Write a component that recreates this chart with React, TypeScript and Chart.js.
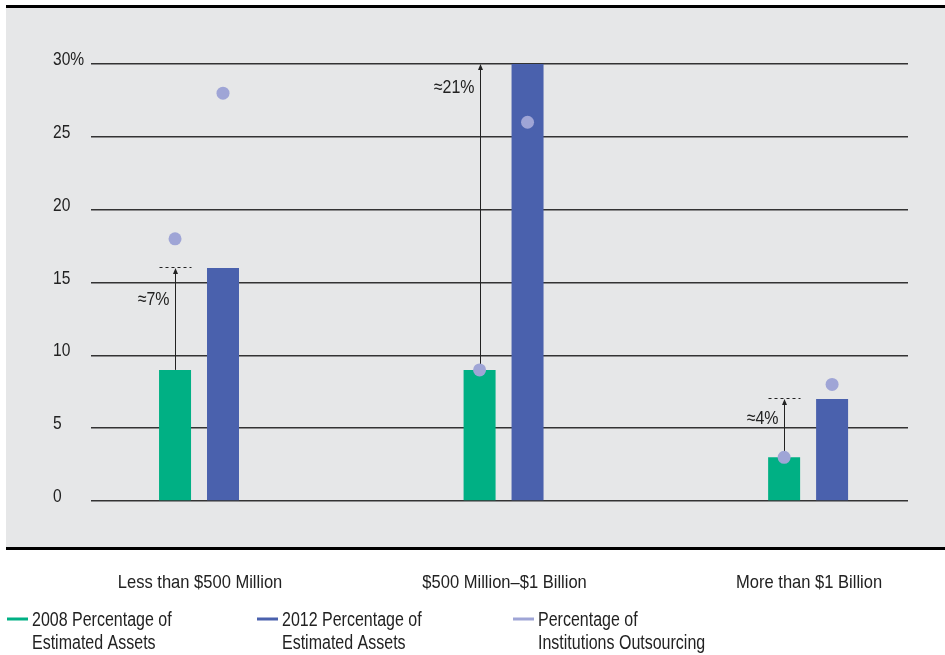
import React, { useEffect, useRef } from 'react';
import { Chart, registerables } from 'chart.js';

Chart.register(...registerables);

// ---- data ----
const categories = ['Less than $500 Million', '$500 Million\u2013$1 Billion', 'More than $1 Billion'];
const assets2008 = [9, 9, 3];
const assets2012 = [16, 30, 7];
const outsourcing2008 = [18, 9, 3];
const outsourcing2012 = [28, 26, 8];
const yTicks = [0, 5, 10, 15, 20, 25, 30];
const yTickLabels = ['0', '5', '10', '15', '20', '25', '30%'];
const seriesLabels = [
  '2008 Percentage of Estimated Assets',
  '2012 Percentage of Estimated Assets',
  'Percentage of Institutions Outsourcing',
];
const legendLines = [
  ['2008 Percentage of', 'Estimated Assets'],
  ['2012 Percentage of', 'Estimated Assets'],
  ['Percentage of', 'Institutions Outsourcing'],
];
// value (on the y scale) at which each "≈ change" label sits
const changeLabelAt = [13.9, 28.5, 5.75];

// ---- styles ----
const GREEN = '#00b084';
const BLUE = '#4a61ad';
const DOT = '#9fa5d6';
const BG = '#e6e7e8';
const INK = '#222222';
const FONT = "'Liberation Sans', Arial, sans-serif";
const CAT_PCT = 0.315;
const BAR_PCT = 0.667;
const OFFSET = CAT_PCT / 4;

// condensed text: Liberation Sans squeezed horizontally
function drawText(
  ctx: CanvasRenderingContext2D,
  text: string,
  x: number,
  y: number,
  size: number,
  sx: number,
  align: CanvasTextAlign,
) {
  ctx.save();
  ctx.font = `${size}px ${FONT}`;
  ctx.fillStyle = INK;
  ctx.textAlign = align;
  ctx.textBaseline = 'alphabetic';
  ctx.translate(x, y);
  ctx.scale(sx, 1);
  ctx.fillText(text, 0, 0);
  ctx.restore();
}

const panelPlugin = {
  id: 'panel',
  beforeDraw(chart: any) {
    const ctx = chart.ctx;
    ctx.save();
    ctx.fillStyle = BG;
    ctx.fillRect(6, 8, chart.width - 6, 539);
    ctx.fillStyle = '#000';
    ctx.fillRect(6, 5, chart.width - 6, 3);
    ctx.fillRect(6, 547, chart.width - 6, 3);
    ctx.restore();
  },
};

const axisTextPlugin = {
  id: 'axisText',
  afterDraw(chart: any) {
    const ctx = chart.ctx;
    const x = chart.scales.x;
    const y = chart.scales.y;
    yTicks.forEach((v, i) => {
      drawText(ctx, yTickLabels[i], 53, Math.round(y.getPixelForValue(v)) + 0.5, 19, 0.82, 'left');
    });
    categories.forEach((c, i) => {
      drawText(ctx, c, x.getPixelForValue(i) + 1, 588, 19, 0.87, 'center');
    });
  },
};

const changePlugin = {
  id: 'change',
  beforeDatasetsDraw(chart: any) {
    const { ctx } = chart;
    const x = chart.scales.x;
    const y = chart.scales.y;
    const barMeta = chart.getDatasetMeta(2);
    ctx.save();
    ctx.strokeStyle = INK;
    ctx.fillStyle = INK;
    ctx.lineWidth = 1;
    categories.forEach((_, i) => {
      const px = Math.round(x.getPixelForValue(i - OFFSET)) + 0.5;
      const y0 = y.getPixelForValue(assets2008[i]);
      const y1 = y.getPixelForValue(assets2012[i]);
      const bar = barMeta.data[i];
      const half = bar.width / 2;
      const yd = Math.round(y1) - 0.5;
      if (!yTicks.includes(assets2012[i])) {
        ctx.setLineDash([3, 3]);
        ctx.beginPath();
        ctx.moveTo(px - half, yd);
        ctx.lineTo(px + half, yd);
        ctx.stroke();
        ctx.setLineDash([]);
      }
      ctx.beginPath();
      ctx.moveTo(px, y0);
      ctx.lineTo(px, y1 + 4);
      ctx.stroke();
      ctx.beginPath();
      ctx.moveTo(px, y1);
      ctx.lineTo(px - 2.5, y1 + 6);
      ctx.lineTo(px + 2.5, y1 + 6);
      ctx.closePath();
      ctx.fill();
    });
    ctx.restore();
    categories.forEach((_, i) => {
      const px = Math.round(x.getPixelForValue(i - OFFSET)) + 0.5;
      drawText(
        ctx,
        `\u2248${assets2012[i] - assets2008[i]}%`,
        px - 6,
        y.getPixelForValue(changeLabelAt[i]) + 6.8,
        19,
        0.84,
        'right',
      );
    });
  },
};

const legendPlugin = {
  id: 'customLegend',
  afterDraw(chart: any) {
    const ctx = chart.ctx;
    const colors = [GREEN, BLUE, DOT];
    const starts = [7, 257, 513];
    legendLines.forEach((lines, i) => {
      const x0 = starts[i];
      ctx.save();
      ctx.fillStyle = colors[i];
      ctx.fillRect(x0, 617.5, 21, 3);
      ctx.restore();
      lines.forEach((t, j) => drawText(ctx, t, x0 + 25, 626 + j * 22.6, 20, 0.8, 'left'));
    });
  },
};

export default function App() {
  const ref = useRef<HTMLCanvasElement>(null);
  useEffect(() => {
    const chart = new Chart(ref.current as HTMLCanvasElement, {
      type: 'bar',
      data: {
        datasets: [
          {
            type: 'scatter',
            label: seriesLabels[2],
            data: outsourcing2008.map((v, i) => ({ x: i - OFFSET, y: v })),
            backgroundColor: DOT,
            borderWidth: 0,
            pointRadius: 6.5,
            order: 0,
          } as any,
          {
            type: 'scatter',
            label: seriesLabels[2],
            data: outsourcing2012.map((v, i) => ({ x: i + OFFSET, y: v })),
            backgroundColor: DOT,
            borderWidth: 0,
            pointRadius: 6.5,
            order: 0,
          } as any,
          {
            type: 'bar',
            label: seriesLabels[0],
            data: assets2008.map((v, i) => ({ x: i, y: v })),
            backgroundColor: GREEN,
            categoryPercentage: CAT_PCT,
            barPercentage: BAR_PCT,
            order: 1,
          } as any,
          {
            type: 'bar',
            label: seriesLabels[1],
            data: assets2012.map((v, i) => ({ x: i, y: v })),
            backgroundColor: BLUE,
            categoryPercentage: CAT_PCT,
            barPercentage: BAR_PCT,
            order: 1,
          } as any,
        ],
      },
      options: {
        responsive: false,
        animation: false,
        devicePixelRatio: 1,
        layout: { padding: { left: 53, top: 64, right: 37, bottom: 54 } },
        plugins: { legend: { display: false }, tooltip: { enabled: false } },
        scales: {
          x: {
            type: 'linear',
            min: -0.3547,
            max: 2.328,
            offset: false,
            grid: { display: false, offset: false },
            border: { display: false },
            afterBuildTicks: (axis: any) => {
              axis.ticks = categories.map((_, i) => ({ value: i }));
            },
            afterFit: (axis: any) => {
              axis.height = 100;
            },
            ticks: { display: false },
          },
          y: {
            min: 0,
            max: 30,
            afterBuildTicks: (axis: any) => {
              axis.ticks = yTicks.map((v) => ({ value: v }));
            },
            afterFit: (axis: any) => {
              axis.width = 38;
            },
            grid: { color: '#333333', lineWidth: 1.4, drawTicks: false },
            border: { display: false },
            ticks: { display: false },
          },
        },
      } as any,
      plugins: [panelPlugin, changePlugin, axisTextPlugin, legendPlugin],
    });
    return () => chart.destroy();
  }, []);
  return (
    <div style={{ position: 'absolute', left: 0, top: 0, width: 945, height: 655, background: '#fff' }}>
      <canvas ref={ref} width={945} height={655} style={{ display: 'block', width: 945, height: 655 }} />
    </div>
  );
}
